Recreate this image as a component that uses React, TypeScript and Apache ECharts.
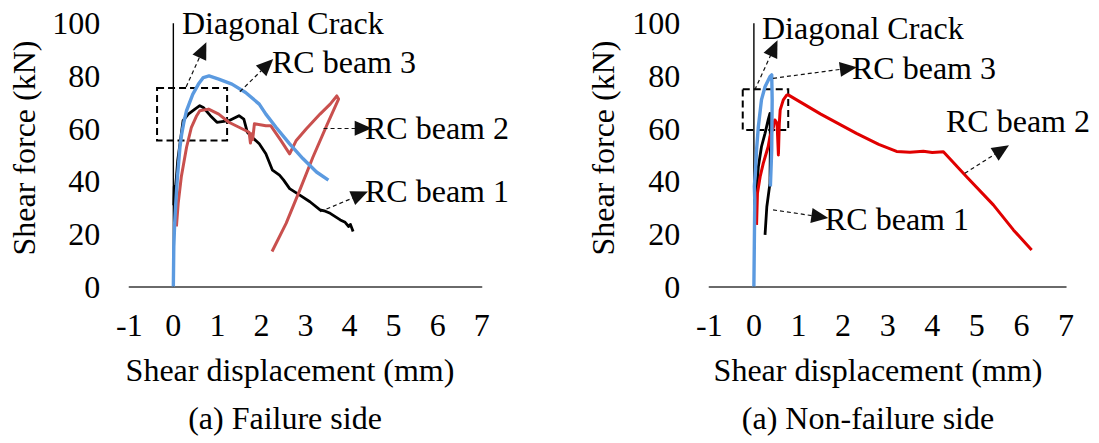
import React, { useEffect, useRef } from "react";
import * as echarts from "echarts";

// ---- axis ticks ----
const xTickValues = [-1, 0, 1, 2, 3, 4, 5, 6, 7];
const yTickValues = [0, 20, 40, 60, 80, 100];

// ---- (a) Failure side ----
const leftBeam1X = [0.01, 0.02, 0.04, 0.07, 0.1, 0.15, 0.22, 0.34, 0.49, 0.6, 0.68, 0.84, 0.99, 1.26, 1.49, 1.6, 1.68, 1.79, 1.95, 2.1, 2.25, 2.41, 2.5, 2.64, 2.87, 3.1, 3.33, 3.45, 3.56, 3.79, 3.9, 3.98, 4.02, 4.08];
const leftBeam1Y = [30.9, 38, 36, 41.6, 48, 54.2, 63, 65.5, 67.4, 68.7, 68, 64.9, 62.4, 63, 64.9, 63.6, 58.6, 56.7, 54.2, 50.4, 44.2, 42.3, 40.5, 37.2, 34.7, 32.2, 29.1, 28.6, 27.8, 25.3, 24.4, 22.8, 23.6, 20.9];

const leftBeam2X = [0.07, 0.11, 0.18, 0.3, 0.41, 0.53, 0.6, 0.8, 1.03, 1.26, 1.49, 1.72, 1.75, 1.77, 1.8, 1.84, 2.1, 2.21, 2.44, 2.64, 2.79, 3.02, 3.33, 3.56, 3.71, 3.75, 3.48, 3.17, 2.87, 2.56, 2.24];
const leftBeam2Y = [22.8, 31.6, 41.6, 52.9, 60.5, 64.9, 66.8, 67.4, 65.5, 62.4, 60.5, 58.6, 54.5, 58, 55.8, 61.8, 61.1, 61.1, 55.5, 50.4, 55.5, 59.9, 65.5, 69.3, 72.4, 71.2, 61.1, 49.2, 36.6, 24, 13.3];

const leftBeam3X = [0, 0.01, 0.03, 0.06, 0.09, 0.12, 0.15, 0.19, 0.24, 0.3, 0.36, 0.44, 0.57, 0.68, 0.81, 1.03, 1.33, 1.64, 1.95, 2.1, 2.33, 2.64, 2.94, 3.25, 3.52];
const leftBeam3Y = [0, 15, 24, 33, 41, 47, 53, 58, 62.5, 66.8, 69.5, 73, 76.9, 79.4, 80, 78.8, 76.9, 73.7, 69.3, 65.5, 60.5, 54.2, 48.6, 43.5, 40.4];

// ---- (a) Non-failure side ----
const rightBeam1X = [0.03, 0.05, 0.1, 0.17, 0.25, 0.32, 0.36, 0.37, 0.36, 0.29, 0.25];
const rightBeam1Y = [30, 32.9, 45.5, 53.1, 58.2, 63.3, 65.8, 55, 39.2, 30.3, 19.6];

const rightBeam2X = [0.06, 0.08, 0.14, 0.21, 0.32, 0.36, 0.44, 0.47, 0.52, 0.55, 0.57, 0.59, 0.66, 0.74, 0.77, 1.5, 2.3, 2.8, 3.2, 3.5, 3.8, 4.0, 4.25, 4.77, 5.37, 5.82, 6.23];
const rightBeam2Y = [23.4, 35.4, 41.7, 46.8, 53.1, 56.9, 60.7, 63.3, 62, 50, 62, 67.1, 70.9, 72.8, 72.8, 65.5, 58.2, 54, 51.3, 51, 51.4, 50.9, 51.2, 41.7, 31, 21.5, 13.9];

const rightBeam3X = [0, 0.02, 0.01, 0.04, 0.03, 0.06, 0.1, 0.17, 0.25, 0.36, 0.4, 0.41, 0.4, 0.37];
const rightBeam3Y = [0, 32.9, 38, 45, 42, 51.9, 60.7, 70.9, 75.9, 79.7, 80.4, 70.9, 51.9, 38];

// ---- annotations (data units) ----
const zeroLine = [[0, 0], [0, 100]];
const leftBox = [[-0.37, 75.4], [1.22, 55.5]];
const rightBox = [[-0.25, 74.9], [0.77, 59.5]];
const leftArrows = [
  [[0.29, 75.8], [0.67, 89.9]],
  [[1.51, 74.0], [2.13, 84.2]],
  [[3.41, 60.1], [4.31, 60.1]],
  [[3.33, 28.4], [4.24, 34.8]],
];
const rightArrows = [
  [[0.02, 74.7], [0.45, 90.6]],
  [[0.43, 79.1], [2.12, 82.9]],
  [[4.73, 43.0], [5.56, 51.9]],
  [[0.43, 29.1], [1.48, 26.5]],
];

const FONT = "Liberation Serif";
const FS = 32;

const zip = (xs: number[], ys: number[]) => xs.map((x, i) => [x, ys[i]]);

function curve(name: string, xs: number[], ys: number[], color: string, idx: number, width = 2.6) {
  return {
    name,
    type: "line",
    xAxisIndex: idx,
    yAxisIndex: idx,
    data: zip(xs, ys),
    showSymbol: false,
    symbol: "none",
    smooth: false,
    z: 3,
    lineStyle: { color, width, join: "round" },
    silent: true,
  };
}

function helper(idx: number, box: number[][], arrows: number[][][]) {
  return {
    name: "helper" + idx,
    type: "line",
    xAxisIndex: idx,
    yAxisIndex: idx,
    data: zeroLine,
    showSymbol: false,
    symbol: "none",
    z: 1,
    lineStyle: { color: "#000", width: 1.4 },
    silent: true,
    markArea: {
      silent: true,
      itemStyle: { color: "rgba(0,0,0,0)", borderColor: "#000", borderWidth: 2, borderType: [7, 4] },
      data: [[{ coord: box[0] }, { coord: box[1] }]],
    },
    markLine: {
      silent: true,
      symbol: ["none", "triangle"],
      symbolSize: [15, 17],
      label: { show: false },
      itemStyle: { color: "#000" },
      lineStyle: { color: "#111", width: 1.2, type: [4, 3] },
      data: arrows.map((a) => [{ coord: a[0] }, { coord: a[1] }]),
    },
  };
}

function xAx(idx: number) {
  return {
    type: "value",
    gridIndex: idx,
    min: xTickValues[0],
    max: xTickValues[xTickValues.length - 1],
    interval: xTickValues[1] - xTickValues[0],
    axisLine: { show: true, onZero: false, lineStyle: { color: "#3a3a3a", width: 1.5 } },
    axisTick: { show: false },
    splitLine: { show: false },
    axisLabel: { color: "#000", fontSize: FS, fontFamily: FONT, margin: 22 },
  };
}

function yAx(idx: number) {
  return {
    type: "value",
    gridIndex: idx,
    min: yTickValues[0],
    max: yTickValues[yTickValues.length - 1],
    interval: yTickValues[1] - yTickValues[0],
    axisLine: { show: false },
    axisTick: { show: false },
    splitLine: { show: false },
    axisLabel: { color: "#000", fontSize: FS, fontFamily: FONT, margin: 29 },
  };
}

function txt(text: string, x: number, y: number, align = "left", rotation = 0) {
  return {
    type: "text",
    x,
    y,
    rotation,
    silent: true,
    style: { text, fill: "#000", fontSize: FS, fontFamily: FONT, align, verticalAlign: "middle" },
  };
}

const option = {
  animation: false,
  backgroundColor: "#fff",
  textStyle: { fontFamily: FONT },
  grid: [
    { left: 129.3, top: 23.3, width: 352.4, height: 263.2, outerBoundsMode: "none", containLabel: false },
    { left: 709.3, top: 23.3, width: 356.7, height: 263.2, outerBoundsMode: "none", containLabel: false },
  ],
  xAxis: [xAx(0), xAx(1)],
  yAxis: [yAx(0), yAx(1)],
  series: [
    helper(0, leftBox, leftArrows),
    curve("RC beam 1", leftBeam1X, leftBeam1Y, "#000000", 0, 2.8),
    curve("RC beam 2", leftBeam2X, leftBeam2Y, "#c9504e", 0, 3),
    curve("RC beam 3", leftBeam3X, leftBeam3Y, "#5b9ae0", 0, 3.4),
    helper(1, rightBox, rightArrows),
    curve("RC beam 1", rightBeam1X, rightBeam1Y, "#000000", 1, 2.8),
    curve("RC beam 2", rightBeam2X, rightBeam2Y, "#e00000", 1, 3),
    curve("RC beam 3", rightBeam3X, rightBeam3Y, "#5b9ae0", 1, 3.4),
  ],
  graphic: [
    txt("Diagonal Crack", 182, 23),
    txt("RC beam 3", 272, 62),
    txt("RC beam 2", 365, 128),
    txt("RC beam 1", 365, 191),
    txt("Diagonal Crack", 762, 28),
    txt("RC beam 3", 852, 68),
    txt("RC beam 2", 1090, 121, "right"),
    txt("RC beam 1", 825, 219),
    txt("Shear force (kN)", 24, 148, "center", Math.PI / 2),
    txt("Shear force (kN)", 603, 148, "center", Math.PI / 2),
    txt("Shear displacement (mm)", 290, 370, "center"),
    txt("Shear displacement (mm)", 878, 370, "center"),
    txt("(a) Failure side", 285, 418, "center"),
    txt("(a) Non-failure side", 868, 418, "center"),
  ],
};

export default function App() {
  const ref = useRef<HTMLDivElement>(null);
  useEffect(() => {
    const chart = echarts.init(ref.current!, null, { renderer: "svg" });
    chart.setOption(option as any);
    return () => chart.dispose();
  }, []);
  return (
    <div
      ref={ref}
      style={{ position: "fixed", left: 0, top: 0, width: 1099, height: 443, background: "#fff" }}
    />
  );
}
